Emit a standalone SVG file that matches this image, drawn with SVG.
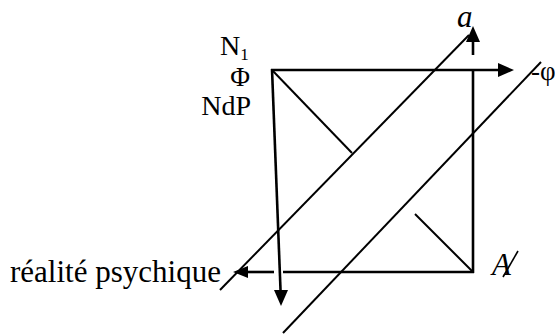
<svg xmlns="http://www.w3.org/2000/svg" width="555" height="334" viewBox="0 0 555 334">
<style>
.t{font-family:"Liberation Serif","DejaVu Serif","Times New Roman",serif;fill:#000}
.f{stroke:#000;stroke-width:2.6;fill:none;stroke-linecap:butt}
.d{stroke:#000;stroke-width:2;fill:none}
.h{fill:#000;stroke:none}
</style>
<rect width="555" height="334" fill="#fff"/>
<g id="connectors">
  <line class="f" x1="271" y1="70" x2="499" y2="70"/>
  <polygon class="h" points="514,70 498,63 498,77"/>
  <line class="f" x1="272" y1="69" x2="280.6" y2="292"/>
  <polygon class="h" points="281,306 274,290 288,290"/>
  <line class="f" x1="473" y1="70" x2="473" y2="273"/>
  <line class="f" x1="473" y1="55" x2="473" y2="42"/>
  <polygon class="h" points="473,26 466,42 480,42"/>
  <line class="f" x1="474" y1="272" x2="283" y2="272"/>
  <line class="f" x1="274" y1="272" x2="246" y2="272"/>
  <polygon class="h" points="233,272 248,266 248,278"/>
  <line class="d" x1="272" y1="70" x2="352" y2="153"/>
  <line class="d" x1="415" y1="214" x2="473" y2="272"/>
  <line class="d" x1="220" y1="290" x2="469" y2="35"/>
  <line class="d" x1="541" y1="62" x2="283" y2="333"/>
</g>
<g id="node-N1"><text class="t" x="220" y="55" font-size="28">N<tspan font-size="17" dy="5">1</tspan></text></g>
<g id="node-Phi"><text class="t" x="240" y="86" font-size="27" text-anchor="middle">Φ</text></g>
<g id="node-NdP"><text class="t" x="251" y="115" font-size="28" text-anchor="end">NdP</text></g>
<g id="node-a"><text class="t" x="457" y="27" font-size="31" font-style="italic">a</text></g>
<g id="node-phi"><text class="t" x="531" y="80" font-size="27">-φ</text></g>
<g id="node-realite"><text class="t" x="10" y="282" font-size="31">réalité psychique</text></g>
<g id="node-Abarre">
  <text class="t" x="492" y="275" font-size="31" font-style="italic">A</text>
  <line x1="518" y1="251" x2="503" y2="277" stroke="#000" stroke-width="1.6"/>
</g>
</svg>
